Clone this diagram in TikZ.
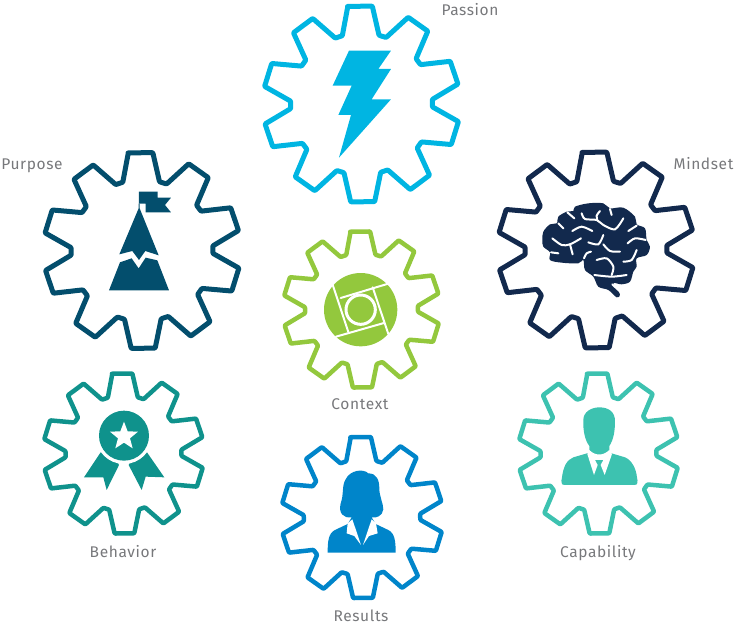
\documentclass[tikz,border=0pt]{standalone}
\usepackage{fontspec}
\setmainfont[LetterSpace=4]{Fira Sans}
\usepackage{tikz}
\definecolor{passioncol}{HTML}{00B5E2}
\definecolor{purposecol}{HTML}{034E6D}
\definecolor{mindsetcol}{HTML}{12294D}
\definecolor{contextcol}{HTML}{93C83D}
\definecolor{behaviorcol}{HTML}{0F928C}
\definecolor{resultscol}{HTML}{0085CA}
\definecolor{capabilitycol}{HTML}{3DC2B0}
\definecolor{labelcol}{HTML}{77787B}
\tikzset{
x=1pt, y=-1pt, % one unit is one pixel of the sheet, counted downwards
gearline/.style={line width=#1, rounded corners=0.8pt, line join=round}, % the cog outline
cutline/.style={draw=white, line width=2pt, line cap=round}, % white grooves inside the icons
labeltext/.style={text=labelcol, font=\fontsize{15.5}{17}\selectfont, anchor=base, inner sep=0pt},
}
% centre, radius, colour, line width
\newcommand{\gearcog}[4]{
    \draw[gearline=#4, draw=#3, shift={(#1)}]
        (-98:#2) \foreach \k in {0,...,9} {
            -- (-90.7+36*\k-7:#2) -- (-90.7+36*\k+7:#2)
            -- (-90.7+36*\k+15:0.72*#2) -- (-90.7+36*\k+21:0.72*#2)
        } -- cycle;
}

\begin{document}
\begin{tikzpicture}
            \useasboundingbox (0,0) rectangle (737,625);

            \gearcog{361.5,104}{98.5}{passioncol}{5pt}
            \gearcog{142,250.5}{98.5}{purposecol}{5pt}
            \gearcog{596,250}{98.5}{mindsetcol}{5pt}
            \gearcog{361.5,309.5}{78.5}{contextcol}{4.5pt}
            \gearcog{123.5,453.5}{80.5}{behaviorcol}{4.5pt}
            \gearcog{362,517.5}{81}{resultscol}{4.5pt}
            \gearcog{598.5,453.5}{80.5}{capabilitycol}{4.5pt}

            % bolt
            \begin{scope}[shift={(250,0)}, scale=0.3333]
                \fill[passioncol] (297,152) -- (423,152) -- (385,207) -- (423,207) -- (365,298) -- (423,298)
                    -- (267,473) -- (303,345) -- (265,345) -- (305,257) -- (248,257) -- cycle;
            \end{scope}

            % peak and flag
            \begin{scope}[shift={(0,145)}, scale=0.3333]
                \fill[purposecol] (417,140) -- (473,140) -- (473,158) -- (513,158) -- (495,180) -- (513,202)
                    -- (437,202) -- (437,176) -- (417,176) -- cycle;
                \fill[purposecol] (416,176) -- (419,176) -- (419,190) -- (476,331) -- (436,318) -- (417,345)
                    -- (397,318) -- (358,328) -- (416,190) -- cycle;
                \fill[purposecol] (327,436) -- (507,436) -- (472,346) -- (437,338) -- (416,370) -- (395,340)
                    -- (360,352) -- cycle;
            \end{scope}

            % brain
            \begin{scope}[shift={(535,195)}, scale=0.3333]
                \fill[mindsetcol] plot[smooth cycle, tension=0.55] coordinates {(22,135) (25,110) (45,88) (65,85) (70,65)
                    (95,50) (115,48) (120,35) (160,25) (205,25) (225,40) (265,38) (300,65) (305,88) (330,100) (335,135)
                    (345,155) (335,180) (305,190) (305,215) (295,230) (285,260) (260,268) (235,265) (255,298) (245,307)
                    (220,285) (190,275) (175,245) (150,225) (145,195) (130,205) (80,203) (45,195) (45,172) (25,155)};
                \draw[cutline] plot[smooth] coordinates {(52,130) (80,150) (105,148) (138,130)};
                \draw[cutline] (105,148) -- (113,178);
                \draw[cutline] plot[smooth] coordinates {(112,108) (140,95) (172,108)};
                \draw[cutline] plot[smooth] coordinates {(140,55) (150,72) (185,75) (205,90) (240,103) (265,70)};
                \draw[cutline] plot[smooth] coordinates {(195,48) (185,62) (187,76)};
                \draw[cutline] (225,42) -- (230,60);
                \draw[cutline] plot[smooth] coordinates {(160,142) (190,148) (205,120)};
                \draw[cutline] plot[smooth] coordinates {(205,148) (225,168) (255,170)};
                \draw[cutline] (280,108) -- (305,92);
                \draw[cutline] plot[smooth] coordinates {(278,145) (300,130) (332,135)};
                \draw[cutline] plot[smooth] coordinates {(147,190) (155,175) (168,170)};
                \draw[cutline] (48,172) -- (70,175);
                \draw[cutline] plot[smooth] coordinates {(185,195) (215,190) (235,215) (230,240)};
                \draw[cutline] plot[smooth] coordinates {(178,240) (230,245) (275,240)};
                \draw[cutline] plot[smooth] coordinates {(265,200) (290,195) (305,165)};
                \draw[cutline] (97,52) -- (118,70);
                \draw[cutline] (70,85) -- (85,100);
                \draw[cutline] (232,268) -- (250,285);
            \end{scope}

            % lens
            \begin{scope}[shift={(320,268)}, scale=0.3333]
                \fill[contextcol] (122,125) circle (110);
                \draw[cutline] (38,50) -- (85,192);
                \draw[cutline] (48,206) -- (192,165);
                \draw[cutline] (158,58) -- (205,198);
                \draw[cutline] (62,90) -- (208,46);
                \draw[cutline, line width=3pt] (122,125) circle (44);
            \end{scope}

            % badge
            \begin{scope}[shift={(35,370)}, scale=0.3333]
                \fill[behaviorcol] (197,247) -- (235,250) -- (252,285) -- (215,360) -- (205,322) -- (147,322) -- cycle;
                \fill[behaviorcol] (336,247) -- (300,250) -- (281,285) -- (320,360) -- (332,320) -- (388,322) -- cycle;
                \fill[white] (267,197) circle (85);
                \fill[behaviorcol] (267,197) circle (75);
                \fill[white] (267,155) -- (278,184) -- (309,185) -- (285,205) -- (293,235) -- (267,218)
                    -- (241,235) -- (249,205) -- (225,185) -- (256,184) -- cycle;
            \end{scope}

            % woman
            \begin{scope}[shift={(275,430)}, scale=0.3333]
                \fill[resultscol] (158,368) .. controls (158,335) and (160,310) .. (180,300) -- (218,282)
                    -- (230,262) .. controls (205,265) and (190,250) .. (197,220)
                    .. controls (207,195) and (200,165) .. (212,148)
                    .. controls (225,120) and (265,115) .. (280,130)
                    .. controls (305,130) and (313,150) .. (313,175)
                    .. controls (313,200) and (325,220) .. (325,238)
                    .. controls (322,258) and (305,265) .. (290,262)
                    -- (302,282) -- (340,300) .. controls (360,310) and (362,335) .. (362,368) -- cycle;
                \fill[white] (218,280) -- (232,268) -- (258,345) -- (238,318) -- (215,310) -- cycle;
                \fill[white] (303,280) -- (290,268) -- (264,345) -- (282,318) -- (308,310) -- cycle;
            \end{scope}

            % man
            \begin{scope}[shift={(510,370)}, scale=0.3333]
                \fill[capabilitycol] (163,345) .. controls (153,345) and (153,335) .. (156,322)
                    .. controls (160,290) and (170,270) .. (190,262) -- (238,248) -- (238,228)
                    .. controls (225,210) and (219,185) .. (220,150)
                    .. controls (220,125) and (245,112) .. (268,112)
                    .. controls (295,112) and (316,125) .. (315,155)
                    .. controls (315,185) and (310,210) .. (298,228) -- (298,248) -- (345,262)
                    .. controls (365,270) and (378,295) .. (381,322)
                    .. controls (384,335) and (384,345) .. (374,345) -- cycle;
                \fill[white] (232,252) -- (238,240) .. controls (255,258) and (280,258) .. (298,240) -- (306,252)
                    -- (284,315) -- (272,285) -- (280,270) -- (255,270) -- (263,285) -- (252,315) -- cycle;
            \end{scope}

            \node[labeltext] (passion) at (470,15.5) {Passion};
            \node[labeltext] (purpose) at (32,169.5) {Purpose};
            \node[labeltext] (mindset) at (703.5,169.5) {Mindset};
            \node[labeltext] (context) at (360,409) {Context};
            \node[labeltext] (behavior) at (123,557) {Behavior};
            \node[labeltext] (results) at (361,621) {Results};
            \node[labeltext] (capability) at (598,557) {Capability};
        \end{tikzpicture}
\end{document}
